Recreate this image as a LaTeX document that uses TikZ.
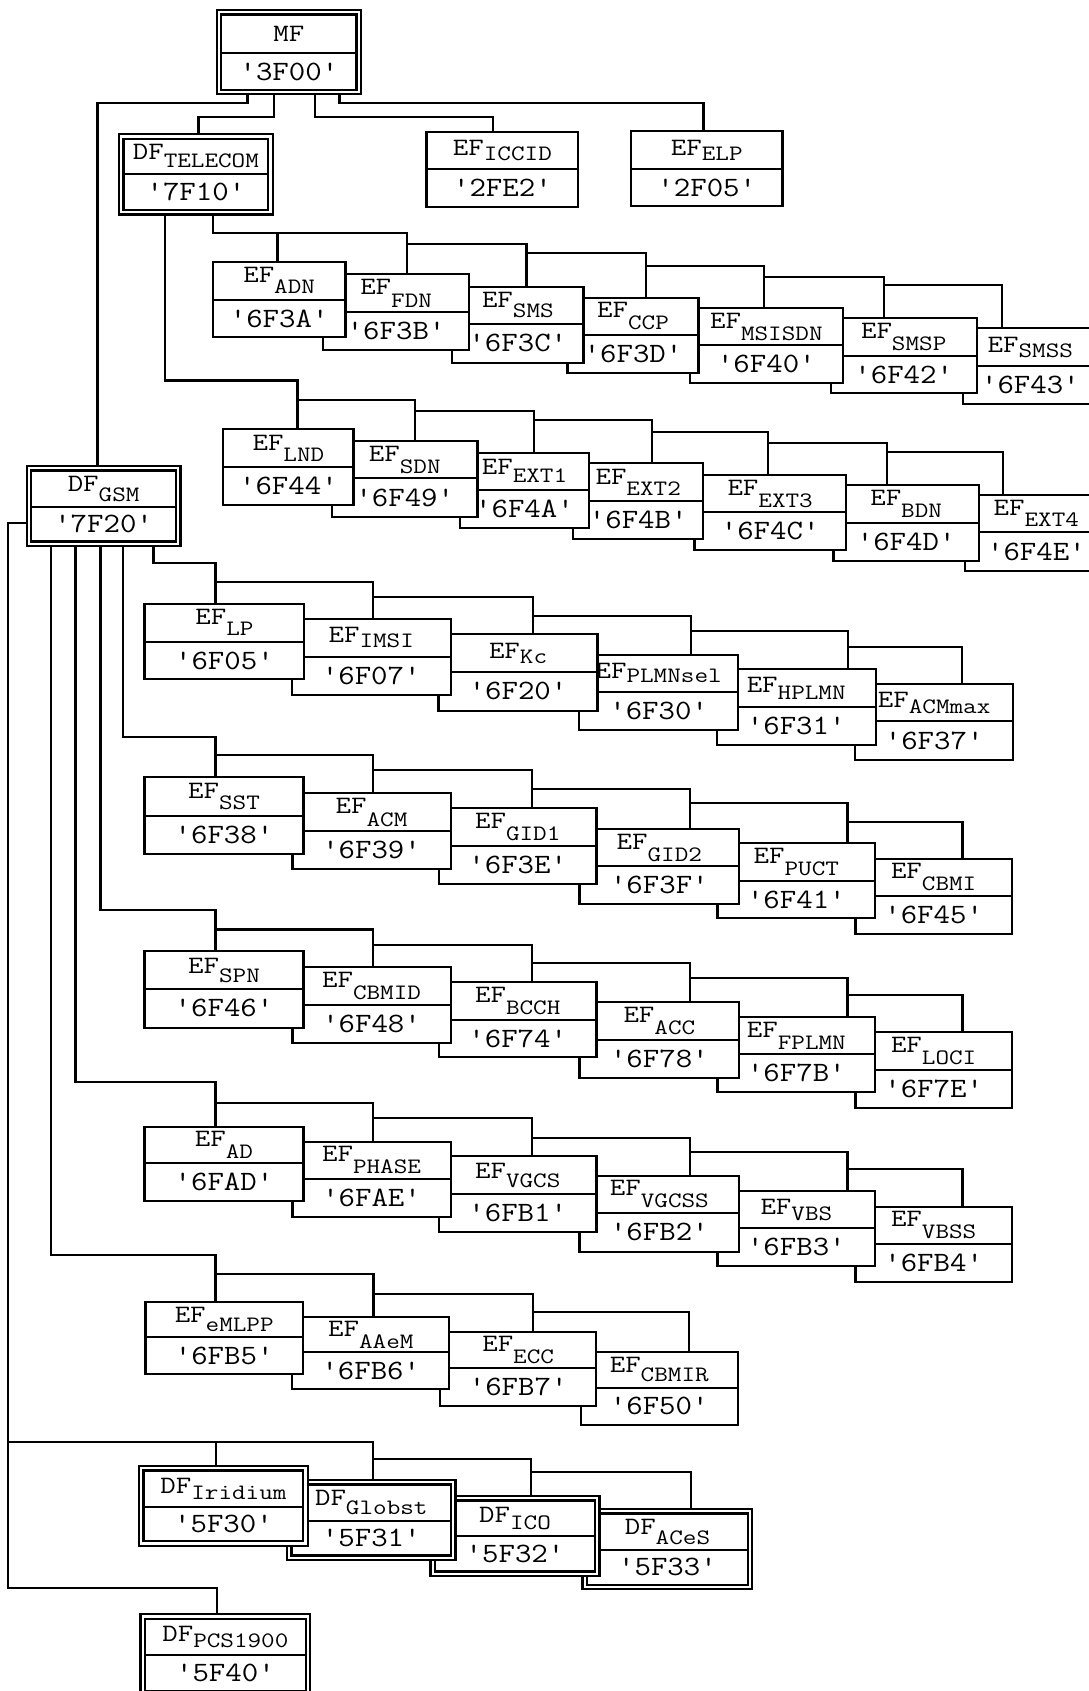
\documentclass[tikz,border=0pt]{standalone}
\usepackage{fontspec}
\usepackage{graphicx}
\tikzset{
 ln/.style={line width=2.3pt},
 bx/.style={draw, fill=white, line width=2.3pt, inner sep=0pt, rectangle},
 lab/.style={inner sep=0pt, font=\ttfamily},
}
\newcommand\nm[3]{\scalebox{1.2}[1]{\fontsize{25}{25}\selectfont #1\raisebox{-#3pt}{\fontsize{22}{22}\selectfont #2}}}
\newcommand\hx[1]{\scalebox{1.14}[1]{\fontsize{28}{28}\selectfont #1}}
\newcommand\Sbox[8]{%
 \pgfmathsetmacro\bcx{(#2+#3)/2}%
 \pgfmathsetmacro\bcy{(#4+#6)/2}%
 \pgfmathsetmacro\bw{#3-#2}%
 \pgfmathsetmacro\bh{#6-#4}%
 \pgfmathsetmacro\bya{(#4+#5)/2}%
 \pgfmathsetmacro\byb{(#5+#6)/2}%
 \node[bx, minimum width=\bw pt, minimum height=\bh pt] (#1) at (\bcx,\bcy) {};%
 \draw[ln] (#2,#5) -- (#3,#5);%
 \node[lab] (#1-name) at (\bcx,\bya) {#7};%
 \node[lab] (#1-id) at (\bcx,\byb) {\hx{#8}};%
}
\newcommand\Dbox[8]{%
 \pgfmathsetmacro\bcx{(#2+#3)/2}%
 \pgfmathsetmacro\bcy{(#4+#6)/2}%
 \pgfmathsetmacro\bw{#3-#2}%
 \pgfmathsetmacro\bh{#6-#4}%
 \pgfmathsetmacro\bya{(#4+4.5+#5)/2}%
 \pgfmathsetmacro\byb{(#5+#6-4.5)/2}%
 \node[bx, minimum width=\bw pt, minimum height=\bh pt] (#1) at (\bcx,\bcy) {};%
 \draw[ln] (#2+4.5,#4+4.5) rectangle (#3-4.5,#6-4.5);%
 \draw[ln] (#2+4.5,#5) -- (#3-4.5,#5);%
 \node[lab] (#1-name) at (\bcx,\bya) {#7};%
 \node[lab] (#1-id) at (\bcx,\byb) {\hx{#8}};%
}
\newcommand\stp[4]{\draw[ln] (#1,#2) -| (#3,0 |- #4.north);}
\begin{document}
\begin{tikzpicture}[x=1pt,y=-1pt]
\useasboundingbox (0,0) rectangle (1088,1691);
\fill[white] (0,0) rectangle (1088,1691);

% ---- top level
\Dbox{MF}{216.8}{361}{10}{53.3}{94.3}{\nm{MF}{}{0}}{'3F00'}
\Dbox{TEL}{119}{272.8}{134.3}{174}{214.6}{\nm{DF}{TELECOM}{8}}{'7F10'}
\Sbox{ICCID}{426.6}{578.2}{131.7}{169.3}{206.7}{\nm{EF}{ICCID}{5}}{'2FE2'}
\Sbox{ELP}{631}{782.5}{131}{169.3}{206}{\nm{EF}{ELP}{5}}{'2F05'}
\Dbox{GSM}{26.8}{180.4}{466}{506.7}{546}{\nm{DF}{GSM}{10}}{'7F20'}

% ---- TELECOM row 1
\Sbox{SMSS}{962.7}{1098}{328.3}{365.7}{404}{\nm{EF}{SMSS}{5}}{'6F43'}
\Sbox{SMSP}{830.7}{976.7}{318.3}{355.7}{393.3}{\nm{EF}{SMSP}{12}}{'6F42'}
\Sbox{MSISDN}{690}{842.7}{307.7}{345.3}{383.3}{\nm{EF}{MSISDN}{12}}{'6F40'}
\Sbox{CCP}{567.5}{698.6}{297.7}{335}{373.3}{\nm{EF}{CCP}{12}}{'6F3D'}
\Sbox{SMS}{452.1}{583.6}{286.7}{324}{362.7}{\nm{EF}{SMS}{10}}{'6F3C'}
\Sbox{FDN}{322.9}{469.3}{274.3}{312.3}{350}{\nm{EF}{FDN}{13}}{'6F3B'}
\Sbox{ADN}{212.9}{345.4}{261.7}{300}{337.3}{\nm{EF}{ADN}{11}}{'6F3A'}

% ---- TELECOM row 2
\Sbox{EXT4}{964.7}{1108}{495}{532.3}{570.7}{\nm{EF}{EXT4}{11}}{'6F4E'}
\Sbox{BDN}{833.6}{978.7}{485}{522.7}{560.7}{\nm{EF}{BDN}{12}}{'6F4D'}
\Sbox{EXT3}{694.5}{845.8}{475}{512.3}{550}{\nm{EF}{EXT3}{12}}{'6F4C'}
\Sbox{EXT2}{573.2}{703.2}{463.3}{500.7}{539.3}{\nm{EF}{EXT2}{11}}{'6F4B'}
\Sbox{EXT1}{460}{589}{452.7}{490}{528.3}{\nm{EF}{EXT1}{8}}{'6F4A'}
\Sbox{SDN}{332.1}{477.5}{441}{478.3}{516.7}{\nm{EF}{SDN}{12}}{'6F49'}
\Sbox{LND}{223.2}{353.6}{429.3}{467.3}{505}{\nm{EF}{LND}{11}}{'6F44'}

% ---- GSM row LP
\Sbox{ACMmax}{855}{1013.3}{684.3}{721}{760}{\nm{EF}{ACMmax}{6}}{'6F37'}
\Sbox{HPLMN}{716.7}{875.7}{669.3}{706.7}{745}{\nm{EF}{HPLMN}{7}}{'6F31'}
\Sbox{PLMNsel}{579}{738.3}{655}{691.7}{730}{\nm{EF}{PLMNsel}{4}}{'6F30'}
\Sbox{Kc}{438.6}{597.5}{634.3}{671.7}{710.7}{\nm{EF}{Kc}{5}}{'6F20'}
\Sbox{IMSI}{291.8}{450.7}{619}{656.7}{695}{\nm{EF}{IMSI}{5}}{'6F07'}
\Sbox{LP}{144.6}{304.3}{604}{641.7}{679.3}{\nm{EF}{LP}{11}}{'6F05'}

% ---- GSM row SST
\Sbox{CBMI}{855.5}{1011.8}{858.7}{896}{934}{\nm{EF}{CBMI}{12}}{'6F45'}
\Sbox{PUCT}{717.5}{875.2}{842.7}{881}{918.3}{\nm{EF}{PUCT}{12}}{'6F41'}
\Sbox{GIDb}{579.5}{739.2}{829.3}{865.7}{904}{\nm{EF}{GID2}{12}}{'6F3F'}
\Sbox{GIDa}{438.9}{596.6}{808.3}{845.7}{884}{\nm{EF}{GID1}{12}}{'6F3E'}
\Sbox{ACM}{292.4}{450.7}{793.3}{830.7}{868.7}{\nm{EF}{ACM}{13}}{'6F39'}
\Sbox{SST}{144.5}{303.5}{776.7}{816}{854.3}{\nm{EF}{SST}{11}}{'6F38'}

% ---- GSM row SPN
\Sbox{LOCI}{855.5}{1011.8}{1032.3}{1070}{1108.3}{\nm{EF}{LOCI}{12}}{'6F7E'}
\Sbox{FPLMN}{717.5}{875.2}{1016.7}{1054.3}{1092.3}{\nm{EF}{FPLMN}{12}}{'6F7B'}
\Sbox{ACC}{579.5}{739.2}{1001.7}{1040}{1078.3}{\nm{EF}{ACC}{12}}{'6F78'}
\Sbox{BCCH}{438.9}{596.6}{981.7}{1020}{1057.3}{\nm{EF}{BCCH}{12}}{'6F74'}
\Sbox{CBMID}{292.4}{450.7}{966.7}{1005}{1043.3}{\nm{EF}{CBMID}{12}}{'6F48'}
\Sbox{SPN}{144.5}{303.5}{951}{989}{1027.7}{\nm{EF}{SPN}{9}}{'6F46'}

% ---- GSM row AD
\Sbox{VBSS}{855.5}{1011.8}{1206.7}{1244}{1281.7}{\nm{EF}{VBSS}{12}}{'6FB4'}
\Sbox{VBS}{717.5}{875.2}{1190.7}{1228.3}{1266}{\nm{EF}{VBS}{6}}{'6FB3'}
\Sbox{VGCSS}{579.5}{739.2}{1176}{1212.7}{1251.7}{\nm{EF}{VGCSS}{12}}{'6FB2'}
\Sbox{VGCS}{438.9}{596.6}{1156}{1194}{1231.7}{\nm{EF}{VGCS}{9}}{'6FB1'}
\Sbox{PHASE}{292.4}{450.7}{1141.7}{1179}{1216.7}{\nm{EF}{PHASE}{12}}{'6FAE'}
\Sbox{AD}{144.5}{303.5}{1126.7}{1163.3}{1201}{\nm{EF}{AD}{12}}{'6FAD'}

% ---- GSM row eMLPP
\Sbox{CBMIR}{580.7}{737.8}{1351.7}{1387.7}{1425}{\nm{EF}{CBMIR}{9}}{'6F50'}
\Sbox{ECC}{440.1}{596.2}{1331.7}{1368.3}{1405.7}{\nm{EF}{ECC}{12}}{'6FB7'}
\Sbox{AAeM}{292.3}{449.3}{1316.7}{1352.3}{1389}{\nm{EF}{AAeM}{12}}{'6FB6'}
\Sbox{eMLPP}{145.4}{303}{1301.7}{1337.3}{1374}{\nm{EF}{eMLPP}{9}}{'6FB5'}

% ---- DF row
\Dbox{ACeS}{582.6}{752.3}{1509}{1550}{1589.3}{\nm{DF}{ACeS}{10}}{'5F33'}
\Dbox{ICO}{430.4}{599.6}{1496}{1535.7}{1576}{\nm{DF}{ICO}{7}}{'5F32'}
\Dbox{Glob}{287}{455.6}{1480}{1520.7}{1560}{\nm{DF}{Globst}{9}}{'5F31'}
\Dbox{Irid}{139.1}{307.8}{1466}{1506.7}{1545.7}{\nm{DF}{Iridium}{6}}{'5F30'}
\Dbox{PCS}{140.6}{310.2}{1614.3}{1655}{1696}{\nm{DF}{PCS1900}{6}}{'5F40'}

% ---- connectors from MF
\draw[ln] (247.6,0 |- MF.south) |- (97.4,103.3) -- (97.4,0 |- GSM.north);
\draw[ln] (273.8,0 |- MF.south) |- (198.5,117.3) -- (198.5,0 |- TEL.north);
\draw[ln] (315,0 |- MF.south) |- (493.2,117.3) -- (493.2,0 |- ICCID.north);
\draw[ln] (339.4,0 |- MF.south) |- (703.5,103.3) -- (703.5,0 |- ELP.north);

% ---- TELECOM row 1
\draw[ln] (213,0 |- TEL.south) |- (407.1,233.3) -- (407.1,0 |- FDN.north);
\draw[ln] (277.5,233.3) -- (277.5,0 |- ADN.north);
\stp{407.1}{244}{526.4}{SMS}
\stp{526.4}{253.3}{646}{CCP}
\stp{646}{266}{764}{MSISDN}
\stp{764}{277.3}{884}{SMSP}
\stp{884}{285}{1002.3}{SMSS}

% ---- TELECOM row 2
\draw[ln] (165,0 |- TEL.south) |- (297.5,380.5) -- (297.5,0 |- LND.north);
\stp{297.5}{400}{415}{SDN}
\stp{415}{410.7}{534}{EXT1}
\stp{534}{420}{651.8}{EXT2}
\stp{651.8}{432.3}{768.2}{EXT3}
\stp{768.2}{443.3}{887.1}{BDN}
\stp{887.1}{451.7}{1003.1}{EXT4}

% ---- GSM row LP
\draw[ln] (153.6,0 |- GSM.south) |- (215.4,562.7) -- (215.4,0 |- LP.north);
\stp{215.4}{581.7}{373.2}{IMSI}
\stp{373.2}{596.7}{532.9}{Kc}
\stp{532.9}{615.7}{690.7}{PLMNsel}
\stp{690.7}{630.7}{848.3}{HPLMN}
\stp{848.3}{646.7}{962.3}{ACMmax}

% ---- GSM row SST
\draw[ln] (123.2,0 |- GSM.south) |- (215.5,736.7) -- (215.5,0 |- SST.north);
\stp{215.5}{754.8}{373.2}{ACM}
\stp{373.2}{770}{532.2}{GIDa}
\stp{532.2}{789.3}{689.9}{GIDb}
\stp{689.9}{803.3}{847.6}{PUCT}
\stp{847.6}{821.7}{962.5}{CBMI}

% ---- GSM row SPN
\draw[ln] (100.5,0 |- GSM.south) |- (215.5,910) -- (215.5,0 |- SPN.north);
\stp{215.5}{929.5}{373.2}{CBMID}
\stp{373.2}{945}{532.2}{BCCH}
\stp{532.2}{963.3}{689.9}{ACC}
\stp{689.9}{978.3}{847.6}{FPLMN}
\stp{847.6}{995}{962.5}{LOCI}

% ---- GSM row AD
\draw[ln] (75.6,0 |- GSM.south) |- (215.5,1081.7) -- (215.5,0 |- AD.north);
\stp{215.5}{1103}{373.2}{PHASE}
\stp{373.2}{1118.3}{532.2}{VGCS}
\stp{532.2}{1138.3}{689.9}{VGCSS}
\stp{689.9}{1151.7}{847.6}{VBS}
\stp{847.6}{1169}{962.5}{VBSS}

% ---- GSM row eMLPP
\draw[ln] (51.2,0 |- GSM.south) |- (215.6,1255) -- (215.6,0 |- eMLPP.north);
\stp{215.6}{1274}{373.5}{AAeM}
\stp{373.5}{1294}{533.2}{ECC}
\stp{533.2}{1312.3}{689.3}{CBMIR}

% ---- GSM DF children
\draw[ln] (GSM.west |- 0,522.7) -| (7.9,1588.3) -| (217.2,0 |- PCS.north);
\draw[ln] (7.9,1442.3) -| (373.2,0 |- Glob.north);
\draw[ln] (215.7,1442.3) -- (215.7,0 |- Irid.north);
\stp{373.2}{1459}{530.8}{ICO}
\stp{530.8}{1471.7}{690.7}{ACeS}
\end{tikzpicture}
\end{document}
